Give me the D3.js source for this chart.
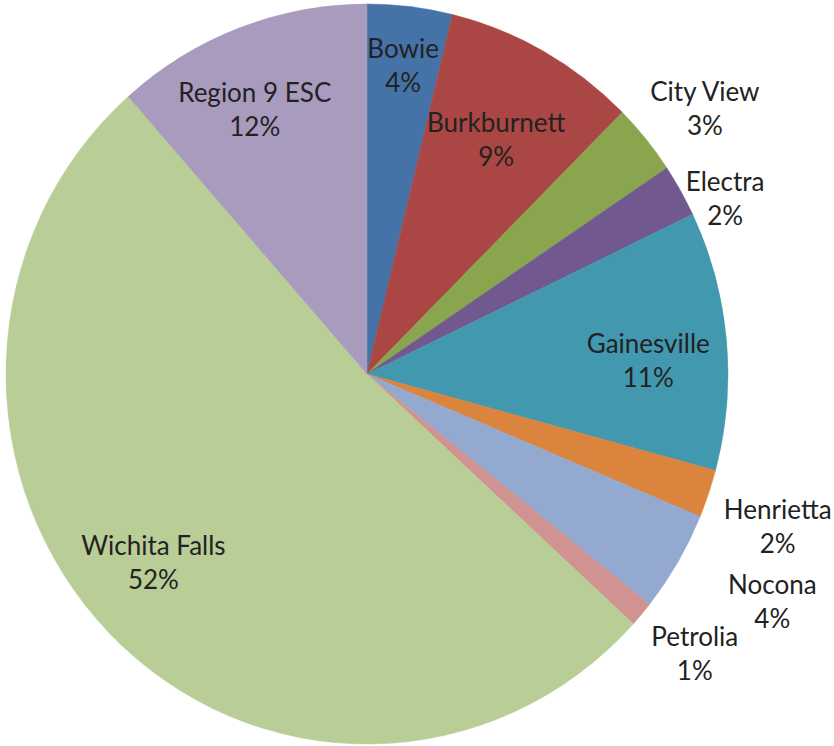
<!DOCTYPE html>
<html>
<head>
<meta charset="utf-8">
<script src="https://cdn.jsdelivr.net/npm/d3@7"></script>
<style>
  body { margin: 0; background: #fff; }
  svg { display: block; }
  .label { font-family: Lato, "Open Sans", sans-serif; font-size: 26px; fill: #222; }
</style>
</head>
<body>
<div id="chart"></div>
<script>
// districts, clockwise from 12 o'clock
var names = ["Bowie", "Burkburnett", "City View", "Electra", "Gainesville",
             "Henrietta", "Nocona", "Petrolia", "Wichita Falls", "Region 9 ESC"];
var shares = [3.8, 8.7, 3.1, 2.3, 11.3, 2.1, 4.4, 1.1, 51.7, 11.5];
var colors = ["#4572a7", "#aa4643", "#89a54e", "#71588f", "#4198af",
              "#db843d", "#93a9cf", "#d19392", "#b9cd96", "#a99bbd"];

var width = 834, height = 746;
var cx = 367, cy = 374, radius = 361, squash = 1.025;

// where each label sits, as a fraction of the radius (and a little angle nudge)
var labelAt = {
  "Bowie":        {r: 0.84, da: 0},
  "Burkburnett":  {r: 0.73, da: 0},
  "City View":    {r: 1.18, da: 1.9},
  "Electra":      {r: 1.10, da: 4.1},
  "Gainesville":  {r: 0.78, da: 2.5},
  "Henrietta":    {r: 1.21, da: 1},
  "Nocona":       {r: 1.28, da: -1.9},
  "Petrolia":     {r: 1.18, da: -0.8},
  "Wichita Falls":{r: 0.78, da: 3.8},
  "Region 9 ESC": {r: 0.78, da: -2.8}
};

var data = names.map(function(n, i) { return {name: n, value: shares[i], color: colors[i]}; });

var svg = d3.select("#chart")
    .append("svg")
    .attr("width", width)
    .attr("height", height);

var pie = d3.pie()
    .sort(null)
    .value(function(d) { return d.value; });

var arc = d3.arc()
    .innerRadius(0)
    .outerRadius(radius);

var arcs = pie(data);

svg.append("g")
    .attr("transform", "translate(" + cx + "," + cy + ") scale(1," + squash + ")")
  .selectAll("path")
    .data(arcs)
    .enter().append("path")
    .attr("d", arc)
    .attr("fill", function(d) { return d.data.color; })
    .attr("stroke", function(d) { return d.data.color; })
    .attr("stroke-width", 0.5);

var total = d3.sum(shares);

var labels = svg.append("g")
  .selectAll("text")
    .data(arcs)
    .enter().append("text")
    .attr("class", "label")
    .attr("text-anchor", "middle")
    .attr("transform", function(d) {
      var p = labelAt[d.data.name];
      var a = (d.startAngle + d.endAngle) / 2 + p.da * Math.PI / 180;
      var r = radius * p.r;
      var x = cx + r * Math.sin(a);
      var y = cy - r * Math.cos(a) * squash;
      return "translate(" + x + "," + y + ")";
    });

labels.append("tspan")
    .attr("x", 0)
    .attr("y", -7)
    .text(function(d) { return d.data.name; });

labels.append("tspan")
    .attr("x", 0)
    .attr("y", 27)
    .text(function(d) { return Math.round(d.data.value / total * 100) + "%"; });
</script>
</body>
</html>
